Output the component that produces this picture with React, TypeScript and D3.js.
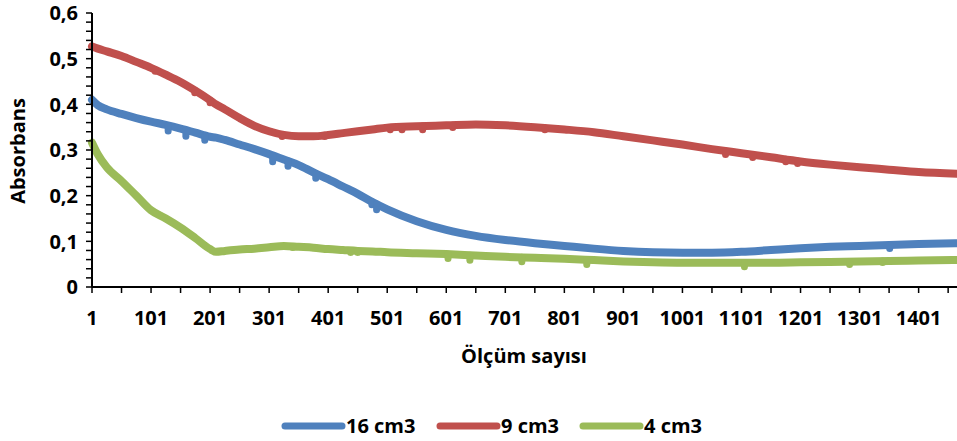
import { useEffect, useRef } from "react";
import * as d3 from "d3";

const olcum = [1, 11, 26, 51, 76, 101, 126, 151, 176, 201, 211, 226, 251, 276, 301, 326, 351, 376, 401, 426, 451, 476, 501, 551, 601, 651, 701, 751, 801, 851, 901, 951, 1001, 1051, 1101, 1151, 1201, 1251, 1301, 1351, 1401, 1466];

const cm16 = [0.41, 0.398, 0.389, 0.379, 0.37, 0.362, 0.355, 0.347, 0.338, 0.329, 0.327, 0.322, 0.312, 0.302, 0.291, 0.279, 0.267, 0.251, 0.236, 0.22, 0.204, 0.186, 0.17, 0.144, 0.125, 0.112, 0.103, 0.096, 0.09, 0.084, 0.079, 0.076, 0.075, 0.075, 0.077, 0.081, 0.085, 0.088, 0.09, 0.092, 0.094, 0.096];
const cm9 = [0.527, 0.522, 0.516, 0.506, 0.493, 0.48, 0.465, 0.449, 0.43, 0.409, 0.4, 0.389, 0.37, 0.353, 0.341, 0.333, 0.33, 0.33, 0.333, 0.337, 0.341, 0.345, 0.349, 0.352, 0.354, 0.356, 0.354, 0.35, 0.345, 0.339, 0.33, 0.321, 0.312, 0.302, 0.293, 0.284, 0.275, 0.268, 0.262, 0.257, 0.252, 0.248];
const cm4 = [0.316, 0.29, 0.262, 0.232, 0.2, 0.168, 0.15, 0.13, 0.107, 0.083, 0.077, 0.079, 0.082, 0.084, 0.087, 0.09, 0.088, 0.086, 0.083, 0.081, 0.079, 0.078, 0.076, 0.074, 0.072, 0.069, 0.066, 0.064, 0.062, 0.059, 0.056, 0.054, 0.053, 0.053, 0.053, 0.053, 0.054, 0.055, 0.056, 0.057, 0.058, 0.059];

// single low readings (dips) seen under each curve: [measurement, value]
const dips16 = [[130, 0.337], [160, 0.326], [192, 0.317], [307, 0.27], [333, 0.26], [380, 0.234], [475, 0.176], [483, 0.165], [1352, 0.08]];
const dips9 = [[108, 0.468], [175, 0.421], [201, 0.399], [323, 0.325], [395, 0.325], [506, 0.34], [526, 0.34], [561, 0.34], [612, 0.345], [768, 0.34], [1074, 0.286], [1120, 0.279], [1176, 0.27], [1196, 0.266]];
const dips4 = [[341, 0.082], [439, 0.071], [451, 0.071], [604, 0.058], [641, 0.054], [729, 0.051], [839, 0.045], [1106, 0.04], [1284, 0.045], [1340, 0.049]];

const seriesNames = ["16 cm3", "9 cm3", "4 cm3"];
const xTickLabels = [1, 101, 201, 301, 401, 501, 601, 701, 801, 901, 1001, 1101, 1201, 1301, 1401];
const yTicks = [0, 0.1, 0.2, 0.3, 0.4, 0.5, 0.6];

export default function App() {
  const ref = useRef<SVGSVGElement>(null);

  useEffect(() => {
    const width = 957, height = 441;
    const left = 92, right = 957, top = 13, bottom = 287;
    const font = "'Open Sans', sans-serif";
    const fs = "20px";
    const colors = ["#4F81BD", "#C0504D", "#9BBB59"];

    const svg = d3.select(ref.current);
    svg.selectAll("*").remove();
    svg.attr("width", width).attr("height", height);

    const x = d3.scaleLinear().domain([1, 1466]).range([left, right]);
    const y = d3.scaleLinear().domain([0, 0.6]).range([bottom, top]);

    // lines
    const all = [cm16, cm9, cm4];
    const dips = [dips16, dips9, dips4];
    const line = d3.line<number>()
      .x((d, i) => x(olcum[i]))
      .y(d => y(d))
      .curve(d3.curveMonotoneX);

    all.forEach((vals, k) => {
      const along = d3.scaleLinear().domain(olcum).range(vals);
      svg.append("path")
        .attr("d", line(vals))
        .attr("fill", "none")
        .attr("stroke", colors[k])
        .attr("stroke-width", 8)
        .attr("stroke-linejoin", "round")
        .attr("stroke-linecap", "round");
      // dips drawn as short round blobs hanging under the curve
      svg.selectAll(null)
        .data(dips[k])
        .enter()
        .append("line")
        .attr("x1", d => x(d[0]))
        .attr("x2", d => x(d[0]))
        .attr("y1", d => y(along(d[0])))
        .attr("y2", d => y(d[1]) - 2)
        .attr("stroke", colors[k])
        .attr("stroke-width", 7)
        .attr("stroke-linecap", "round");
    });

    // y axis
    const yMinor = d3.range(0, 0.6001, 0.02);
    svg.append("line")
      .attr("x1", left).attr("x2", left)
      .attr("y1", top).attr("y2", bottom)
      .attr("stroke", "#000").attr("stroke-width", 2);
    svg.selectAll(null).data(yMinor).enter().append("line")
      .attr("x1", left - 6).attr("x2", left)
      .attr("y1", d => y(d)).attr("y2", d => y(d))
      .attr("stroke", "#000").attr("stroke-width", 1.5);
    svg.selectAll(null).data(yTicks).enter().append("text")
      .attr("x", 78)
      .attr("y", d => y(d))
      .attr("dy", "0.36em")
      .attr("text-anchor", "end")
      .style("font-family", font)
      .style("font-weight", "bold")
      .style("font-size", fs)
      .text(d => d === 0 ? "0" : d3.format(".1f")(d).replace(".", ","));

    // x axis
    const xMinor = d3.range(1, 1466, 50);
    svg.append("line")
      .attr("x1", left).attr("x2", right)
      .attr("y1", bottom).attr("y2", bottom)
      .attr("stroke", "#000").attr("stroke-width", 2);
    svg.selectAll(null).data(xMinor).enter().append("line")
      .attr("x1", d => x(d)).attr("x2", d => x(d))
      .attr("y1", bottom).attr("y2", bottom + 6)
      .attr("stroke", "#000").attr("stroke-width", 1.5);
    svg.selectAll(null).data(xTickLabels).enter().append("text")
      .attr("x", d => x(d))
      .attr("y", 325)
      .attr("text-anchor", "middle")
      .style("font-family", font)
      .style("font-weight", "bold")
      .style("font-size", fs)
      .text(d => d);

    // axis titles
    svg.append("text")
      .attr("x", 524).attr("y", 363)
      .attr("text-anchor", "middle")
      .style("font-family", font)
      .style("font-weight", "bold")
      .style("font-size", fs)
      .text("Ölçüm sayısı");
    svg.append("text")
      .attr("transform", "translate(25,151) rotate(-90)")
      .attr("text-anchor", "middle")
      .style("font-family", font)
      .style("font-weight", "bold")
      .style("font-size", fs)
      .text("Absorbans");

    // legend
    const legX = [285, 440, 583];
    seriesNames.forEach((name, k) => {
      svg.append("line")
        .attr("x1", legX[k]).attr("x2", legX[k] + 57)
        .attr("y1", 426).attr("y2", 426)
        .attr("stroke", colors[k])
        .attr("stroke-width", 7)
        .attr("stroke-linecap", "round");
      svg.append("text")
        .attr("x", legX[k] + 61).attr("y", 433)
        .style("font-family", font)
        .style("font-weight", "bold")
        .style("font-size", fs)
        .text(name);
    });
  }, []);

  return (
    <div>
      <svg ref={ref} style={{ position: "absolute", left: 0, top: 0 }}></svg>
    </div>
  );
}
